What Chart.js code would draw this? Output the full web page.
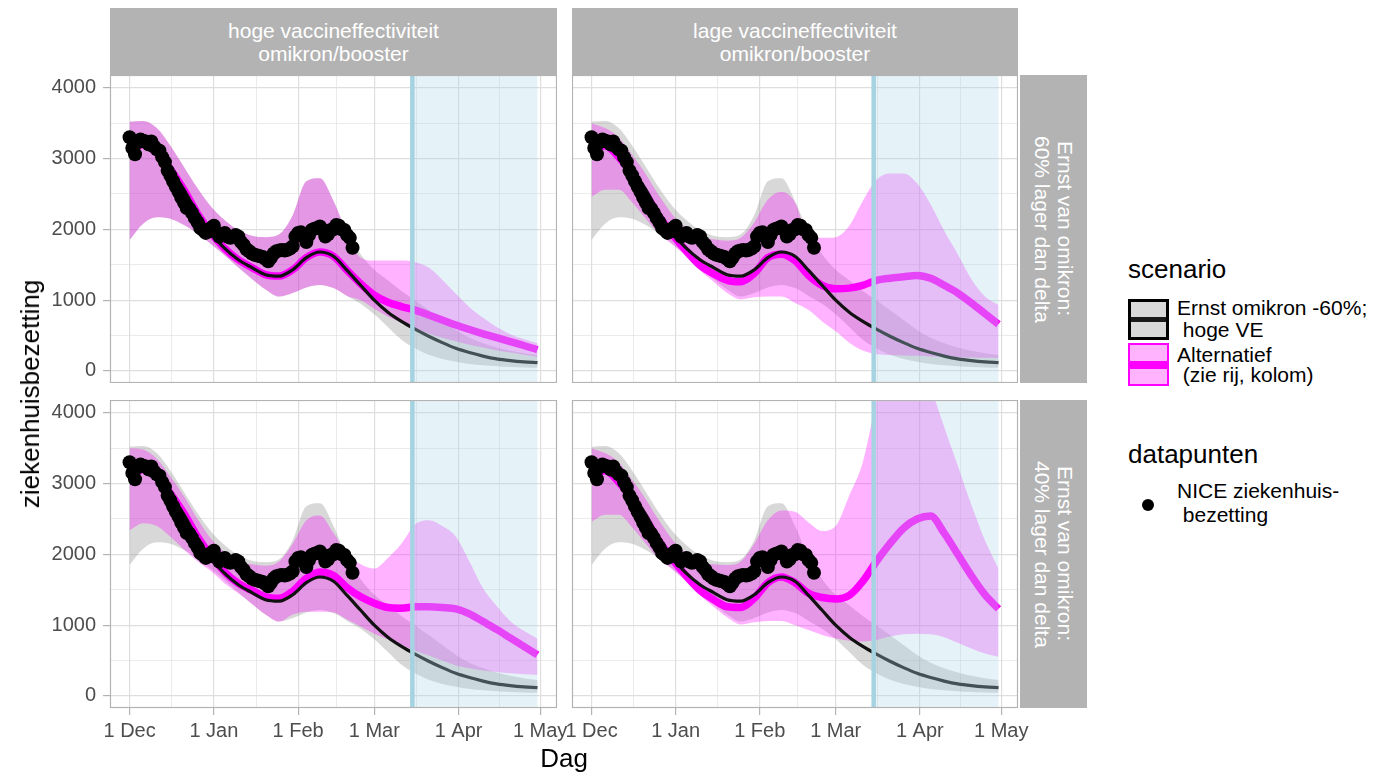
<!DOCTYPE html>
<html>
<head>
<meta charset="utf-8">
<title>ziekenhuisbezetting scenario's</title>
<script src="https://cdn.jsdelivr.net/npm/chart.js@4.4.1/dist/chart.umd.min.js"></script>
<style>
  body { margin: 0; background: #fff; font-family: "Liberation Sans", Arial, sans-serif; }
  #wrap { position: relative; width: 1384px; height: 775px; overflow: hidden; }
  canvas { position: absolute; }
  .strip { position: absolute; background: #b3b3b3; color: #fff; font-size: 21px; line-height: 23px;
           display: flex; flex-direction: column; align-items: center; justify-content: center;
           text-align: center; white-space: nowrap; }
  .strip.side { writing-mode: vertical-rl; }
  .txt { position: absolute; white-space: pre; color: #000; font-size: 21px; line-height: 21px; }
  .title { position: absolute; white-space: pre; color: #000; font-size: 26px; line-height: 26px; }
  .key { position: absolute; box-sizing: border-box; width: 41px; }
  .key span { position: absolute; left: 0; right: 0; top: 50%; }
</style>
</head>
<body>
<div id="wrap">
  <div class="strip" style="left:110px;top:8px;width:447px;height:67px;"><div>hoge vaccineffectiviteit</div><div>omikron/booster</div></div>
  <div class="strip" style="left:572px;top:8px;width:446px;height:67px;"><div>lage vaccineffectiviteit</div><div>omikron/booster</div></div>
  <div class="strip side" style="left:1020px;top:75px;width:67px;height:308px;"><div>Ernst van omikron:</div><div>60% lager dan delta</div></div>
  <div class="strip side" style="left:1020px;top:400px;width:67px;height:308px;"><div>Ernst van omikron:</div><div>40% lager dan delta</div></div>

  <canvas id="tl" width="517" height="308" style="left:40px;top:75px;"></canvas>
  <canvas id="tr" width="446" height="308" style="left:572px;top:75px;"></canvas>
  <canvas id="bl" width="547" height="353" style="left:40px;top:400px;"></canvas>
  <canvas id="br" width="506" height="353" style="left:542px;top:400px;"></canvas>

  <div class="title" style="left:30px;top:394px;transform:translate(-50%,-50%) rotate(-90deg);">ziekenhuisbezetting</div>
  <div class="title" style="left:564px;top:745px;transform:translateX(-50%);">Dag</div>

  <div class="title" style="left:1128px;top:256px;">scenario</div>
  <div class="key" style="left:1128px;top:299px;height:41px;border:3px solid #000;background:#d9d9d9;"><span style="height:5px;margin-top:-2.5px;background:#1a1a1a;"></span></div>
  <div class="key" style="left:1128px;top:343px;height:43px;border:2px solid #ff00ff;background:#ffb3ff;"><span style="height:8px;margin-top:-4px;background:#ff00ff;"></span></div>
  <div class="txt" style="left:1177px;top:297px;">Ernst omikron -60%;</div>
  <div class="txt" style="left:1177px;top:319px;"> hoge VE</div>
  <div class="txt" style="left:1177px;top:344px;">Alternatief</div>
  <div class="txt" style="left:1177px;top:364px;"> (zie rij, kolom)</div>

  <div class="title" style="left:1128px;top:441px;">datapunten</div>
  <div style="position:absolute;left:1142px;top:499px;width:12px;height:12px;border-radius:50%;background:#000;"></div>
  <div class="txt" style="left:1177px;top:480px;">NICE ziekenhuis-</div>
  <div class="txt" style="left:1177px;top:504px;"> bezetting</div>
</div>

<script>
// days since 1 Dec
const tickDays = [0, 31, 62, 90, 121, 151];
const tickLabels = ['1 Dec', '1 Jan', '1 Feb', '1 Mar', '1 Apr', '1 May'];
const minorDays = [15.5, 46.5, 76, 105.5, 136];
const yMajor = [0, 1000, 2000, 3000, 4000];
const yMinor = [500, 1500, 2500, 3500];

const shadeStart = 104; // 15 Mar
const shadeEnd = 150;

const modelDays = [0, 5, 10, 15, 20, 25, 30, 35, 40, 45, 50, 55, 60, 65, 70, 75, 80, 85, 90, 95, 100, 105, 110, 115, 120, 125, 130, 135, 140, 145, 150];

// reference scenario: Ernst omikron -60%; hoge VE
const baseMid = [3120, 3200, 3080, 2850, 2560, 2220, 1950, 1730, 1570, 1460, 1360, 1340, 1430, 1600, 1680, 1620, 1420, 1210, 1000, 830, 700, 590, 490, 400, 320, 260, 210, 170, 145, 128, 118];
const baseHi = [3520, 3530, 3430, 3180, 2880, 2580, 2320, 2130, 1990, 1910, 1890, 1930, 2200, 2680, 2720, 2400, 1950, 1650, 1430, 1280, 1130, 1000, 860, 720, 580, 470, 390, 330, 285, 250, 226];
const baseLo = [1850, 2080, 2170, 2150, 2060, 1940, 1790, 1630, 1460, 1300, 1150, 1050, 1100, 1180, 1215, 1170, 1060, 950, 800, 620, 440, 320, 230, 170, 130, 100, 80, 65, 55, 50, 45];

// alternatives per panel
const tlMid = [3120, 3200, 3080, 2850, 2560, 2220, 1950, 1730, 1570, 1460, 1360, 1340, 1430, 1600, 1680, 1620, 1420, 1230, 1070, 970, 910, 860, 790, 720, 650, 585, 525, 470, 415, 360, 300];
const tlHi = [3520, 3530, 3430, 3180, 2880, 2580, 2320, 2130, 1990, 1910, 1890, 1930, 2200, 2680, 2720, 2400, 1950, 1600, 1560, 1560, 1560, 1540, 1460, 1290, 1090, 900, 750, 620, 520, 450, 390];
const tlLo = [1850, 2080, 2170, 2150, 2060, 1940, 1790, 1630, 1460, 1300, 1150, 1050, 1100, 1180, 1215, 1170, 1060, 1000, 880, 770, 680, 600, 530, 470, 420, 370, 330, 290, 260, 230, 200];

const trMid = [3100, 3180, 3020, 2780, 2500, 2180, 1920, 1690, 1490, 1370, 1280, 1260, 1380, 1600, 1650, 1560, 1350, 1210, 1160, 1170, 1210, 1280, 1310, 1330, 1350, 1310, 1210, 1100, 960, 810, 660];
const trHi = [3500, 3430, 3300, 3050, 2780, 2470, 2200, 2010, 1900, 1860, 1840, 1880, 2100, 2420, 2530, 2380, 1900, 1880, 1890, 2050, 2400, 2700, 2790, 2790, 2650, 2350, 1980, 1650, 1300, 1050, 930];
const trLo = [2460, 2560, 2560, 2380, 2150, 1930, 1780, 1610, 1420, 1260, 1100, 1010, 1040, 1050, 1050, 960, 860, 700, 560, 400, 290, 240, 225, 220, 215, 205, 200, 195, 190, 185, 184];

const blMid = [3100, 3200, 3090, 2860, 2580, 2250, 1980, 1750, 1590, 1490, 1400, 1380, 1480, 1660, 1750, 1700, 1530, 1400, 1310, 1250, 1240, 1260, 1260, 1250, 1230, 1160, 1050, 940, 820, 700, 580];
const blHi = [3500, 3480, 3350, 3100, 2820, 2500, 2220, 2030, 1900, 1860, 1840, 1900, 2150, 2480, 2550, 2300, 2000, 1860, 1800, 1950, 2150, 2420, 2480, 2400, 2250, 1900, 1520, 1270, 1060, 920, 810];
const blLo = [2340, 2440, 2400, 2250, 2070, 1900, 1760, 1590, 1450, 1300, 1150, 1050, 1150, 1190, 1190, 1180, 1080, 980, 880, 800, 720, 640, 570, 500, 430, 390, 360, 340, 320, 305, 296];

const brMid = [3100, 3180, 3020, 2780, 2500, 2180, 1920, 1690, 1490, 1360, 1260, 1250, 1380, 1600, 1680, 1600, 1450, 1390, 1370, 1420, 1620, 1900, 2150, 2370, 2500, 2540, 2300, 2000, 1700, 1430, 1230];
const brHi = [3500, 3430, 3300, 3050, 2780, 2470, 2200, 2010, 1900, 1860, 1850, 1900, 2150, 2480, 2620, 2600, 2450, 2330, 2400, 2830, 3300, 4150, 4700, 4900, 4750, 4350, 3800, 3250, 2700, 2200, 1800];
const brLo = [2460, 2560, 2560, 2380, 2150, 1930, 1780, 1610, 1420, 1260, 1110, 1010, 1040, 1060, 1060, 1000, 930, 860, 810, 780, 770, 790, 840, 870, 880, 870, 830, 750, 670, 600, 554];

// NICE ziekenhuisbezetting, daily from 1 Dec
const niceValues = [
  3300, 3150, 3060, 3230, 3270, 3250, 3240, 3200, 3240, 3170,
  3130, 3110, 3020, 2950, 2830, 2760, 2680, 2600, 2530, 2450,
  2380, 2300, 2290, 2230, 2160, 2100, 2020, 1990, 1950, 1970,
  2020, 2050, 1950, 1900, 1920, 1950, 1900, 1880, 1890, 1920,
  1900, 1820, 1780, 1720, 1690, 1660, 1640, 1630, 1620, 1610,
  1580, 1550, 1600, 1660, 1690, 1700, 1710, 1700, 1710, 1730,
  1760, 1900, 1950, 1960, 1900, 1820, 1920, 1990, 2010, 2020,
  2040, 1990, 1900, 1930, 1990, 2000, 2060, 2050, 2000, 1990,
  1920, 1880, 1740
];

const xMin = -7.2, xMax = 157.2, yMin = -170, yMax = 4180;

Chart.defaults.font.family = '"Liberation Sans", Arial, sans-serif';

function pts(days, vals) {
  return days.map((d, i) => ({x: d, y: vals[i]}));
}

const panelPlugin = {
  id: 'panel',
  afterDatasetsDraw(chart) {
    const {ctx, chartArea: a, scales: {x}} = chart;
    const x1 = x.getPixelForValue(shadeStart);
    const x2 = x.getPixelForValue(shadeEnd);
    ctx.save();
    ctx.fillStyle = 'rgba(173,216,230,0.32)';
    ctx.fillRect(x1, a.top, x2 - x1, a.bottom - a.top);
    ctx.strokeStyle = '#a6d3e2';
    ctx.lineWidth = 4.5;
    ctx.beginPath();
    ctx.moveTo(x1, a.top);
    ctx.lineTo(x1, a.bottom);
    ctx.stroke();
    ctx.restore();
  },
  afterDraw(chart) {
    const {ctx, chartArea: a} = chart;
    ctx.save();
    ctx.strokeStyle = '#b3b3b3';
    ctx.lineWidth = 1.2;
    ctx.strokeRect(a.left + 0.5, a.top + 0.5, a.right - a.left - 1, a.bottom - a.top - 1);
    ctx.restore();
  }
};

function makePanel(id, mid, hi, lo, showY, showX, padL, padR) {
  const none = 'rgba(0,0,0,0)';
  new Chart(document.getElementById(id), {
    type: 'line',
    data: {
      datasets: [
        {data: niceValues.map((v, i) => ({x: i, y: v})), showLine: false, pointRadius: 7,
         pointBackgroundColor: '#000', pointBorderWidth: 0, order: 0},
        {data: pts(modelDays, baseMid), borderColor: '#111', borderWidth: 3.2, order: 1},
        {data: pts(modelDays, mid), borderColor: '#ff00ff', borderWidth: 7.5, order: 2},
        {data: pts(modelDays, hi), borderColor: none, borderWidth: 0, fill: '+1',
         backgroundColor: 'rgba(255,0,255,0.3)', order: 3},
        {data: pts(modelDays, lo), borderColor: none, borderWidth: 0, order: 4},
        {data: pts(modelDays, baseHi), borderColor: none, borderWidth: 0, fill: '+1',
         backgroundColor: 'rgba(127,127,127,0.3)', order: 5},
        {data: pts(modelDays, baseLo), borderColor: none, borderWidth: 0, order: 6}
      ]
    },
    options: {
      responsive: false,
      animation: false,
      events: [],
      layout: {padding: {left: padL, right: padR, top: 0, bottom: 0}, autoPadding: false},
      elements: {
        point: {radius: 0},
        line: {cubicInterpolationMode: 'monotone', fill: false}
      },
      plugins: {legend: {display: false}, tooltip: {enabled: false}},
      scales: {
        x: {
          type: 'linear', min: xMin, max: xMax,
          afterBuildTicks: s => { s.ticks = tickDays.concat(minorDays).sort((a, b) => a - b).map(v => ({value: v})); },
          afterFit: s => { s.height = showX ? 45 : 0; s.paddingLeft = 0; s.paddingRight = 0; },
          ticks: {
            display: showX, autoSkip: false, maxRotation: 0, minRotation: 0, padding: 4,
            color: '#4d4d4d', font: {size: 20},
            callback: v => { const i = tickDays.indexOf(v); return i >= 0 ? tickLabels[i] : ''; }
          },
          grid: {
            color: '#dedede',
            lineWidth: c => tickDays.includes(c.tick && c.tick.value) ? 1.2 : 0.6,
            drawTicks: showX, tickLength: 7, tickWidth: 1.2,
            tickColor: c => tickDays.includes(c.tick && c.tick.value) ? '#b3b3b3' : none
          },
          border: {display: false}
        },
        y: {
          type: 'linear', min: yMin, max: yMax,
          afterBuildTicks: s => { s.ticks = yMajor.concat(yMinor).sort((a, b) => a - b).map(v => ({value: v})); },
          afterFit: s => { s.width = showY ? 70 : 0; s.paddingTop = 0; s.paddingBottom = 0; },
          ticks: {
            display: showY, padding: 7, color: '#4d4d4d', font: {size: 20},
            callback: v => yMajor.includes(v) ? String(v) : ''
          },
          grid: {
            color: '#dedede',
            lineWidth: c => yMajor.includes(c.tick && c.tick.value) ? 1.2 : 0.6,
            drawTicks: showY, tickLength: 7, tickWidth: 1.2,
            tickColor: c => yMajor.includes(c.tick && c.tick.value) ? '#b3b3b3' : none
          },
          border: {display: false}
        }
      }
    },
    plugins: [panelPlugin]
  });
}

makePanel('tl', tlMid, tlHi, tlLo, true, false, 0, 0);
makePanel('tr', trMid, trHi, trLo, false, false, 0, 0);
makePanel('bl', blMid, blHi, blLo, true, true, 0, 30);
makePanel('br', brMid, brHi, brLo, false, true, 30, 30);
</script>
</body>
</html>
